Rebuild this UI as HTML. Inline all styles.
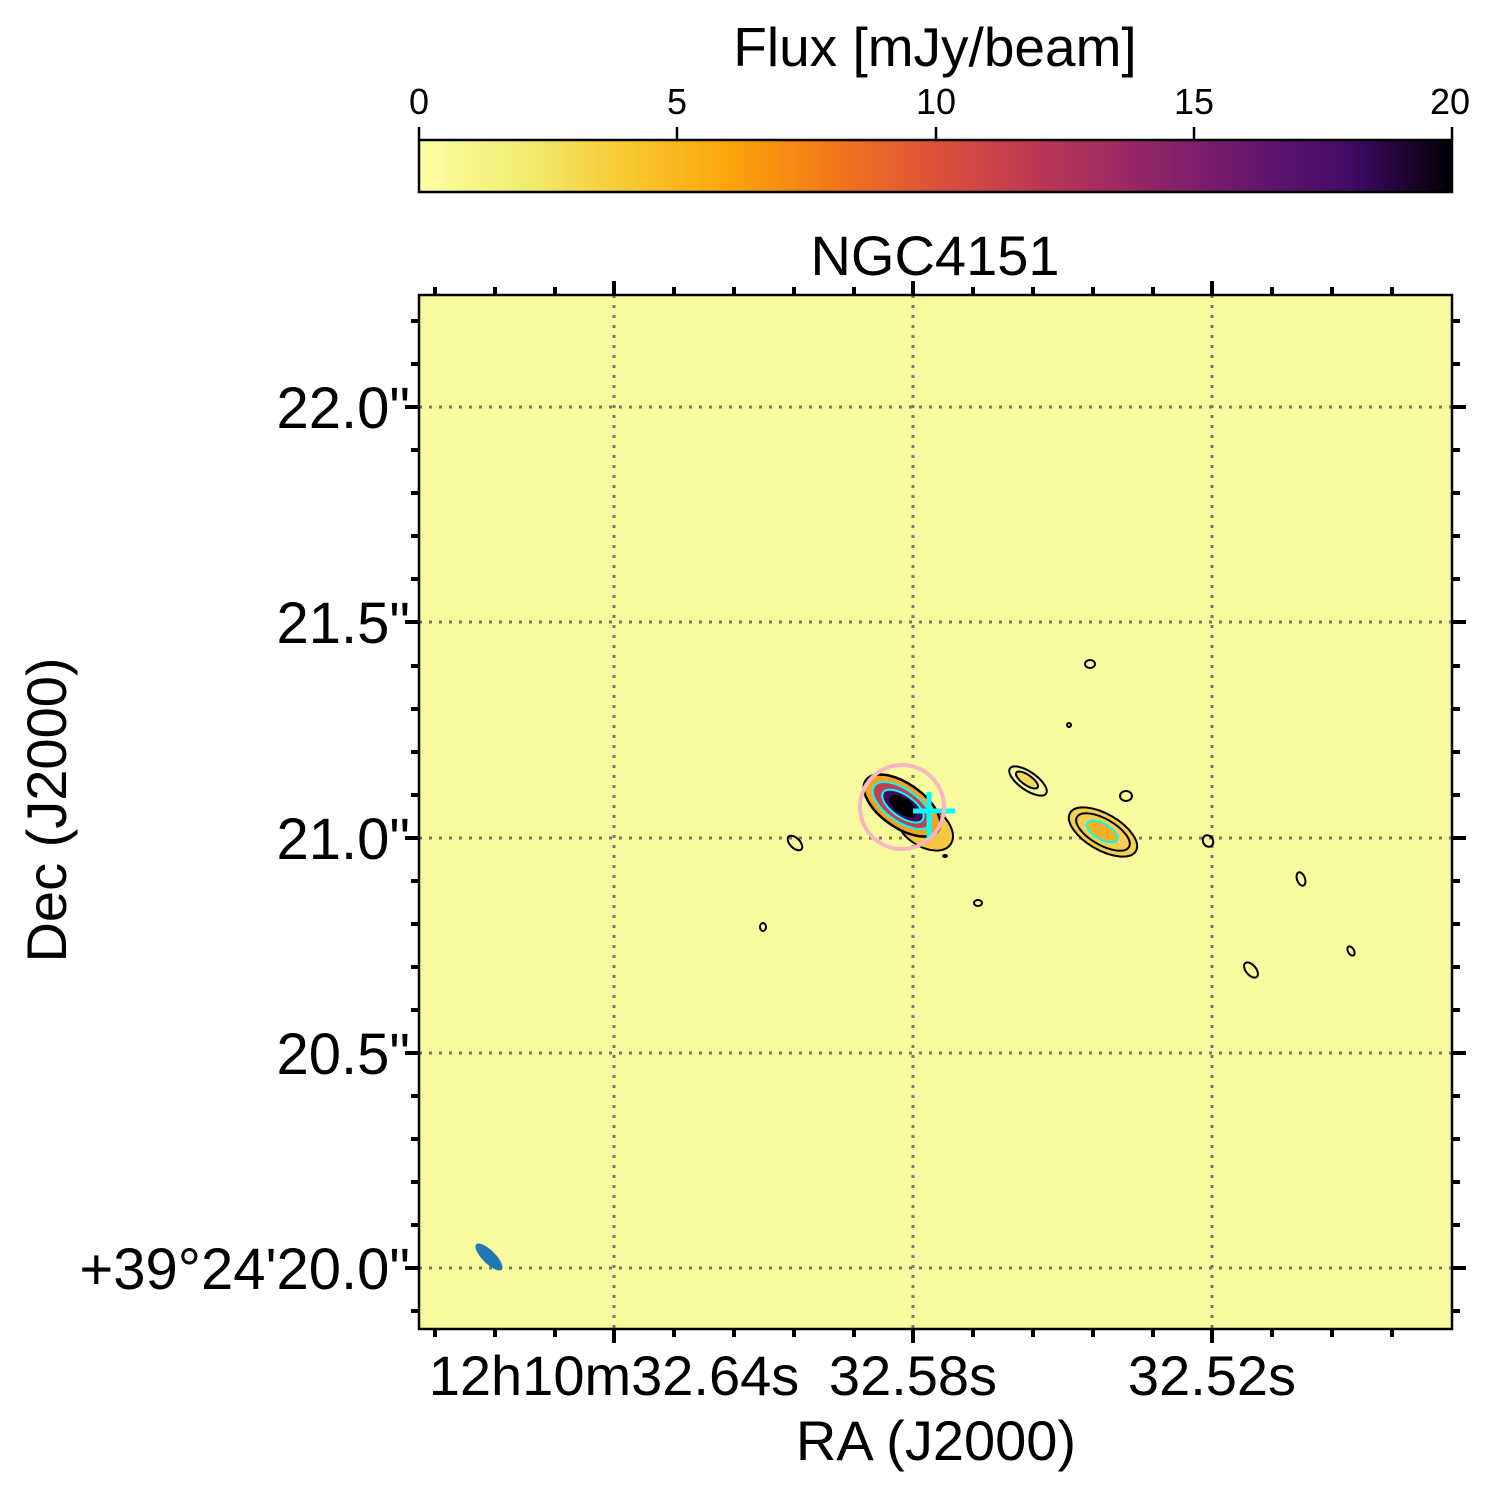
<!DOCTYPE html>
<html><head><meta charset="utf-8"><style>
html,body{margin:0;padding:0;background:#fff;}
svg{display:block;font-family:"Liberation Sans",sans-serif;}
</style></head><body>
<svg width="1512" height="1496" viewBox="0 0 1512 1496">
<defs>
<linearGradient id="cb" x1="0" x2="1" y1="0" y2="0">
<stop offset="0" stop-color="#fcffa4"/><stop offset="0.1" stop-color="#f1ed71"/>
<stop offset="0.2" stop-color="#f8c932"/><stop offset="0.3" stop-color="#fca50a"/>
<stop offset="0.4" stop-color="#f37819"/><stop offset="0.5" stop-color="#dd513a"/>
<stop offset="0.6" stop-color="#bc3754"/><stop offset="0.7" stop-color="#932667"/>
<stop offset="0.8" stop-color="#6a176e"/><stop offset="0.9" stop-color="#420a68"/>
<stop offset="1" stop-color="#000004"/>
</linearGradient>
</defs>
<text x="935" y="66" font-size="55" text-anchor="middle">Flux [mJy/beam]</text>
<rect x="419" y="140" width="1033" height="52" fill="url(#cb)" stroke="#000" stroke-width="2.5"/>
<g stroke="#000" stroke-width="2.5">
<line x1="419" y1="140" x2="419" y2="127"/><line x1="677" y1="140" x2="677" y2="127"/>
<line x1="936" y1="140" x2="936" y2="127"/><line x1="1194" y1="140" x2="1194" y2="127"/>
<line x1="1452" y1="140" x2="1452" y2="127"/></g>
<g font-size="36" text-anchor="middle">
<text x="419" y="114">0</text><text x="677" y="114">5</text><text x="936" y="114">10</text>
<text x="1194" y="114">15</text><text x="1450" y="114">20</text></g>
<text x="935" y="275" font-size="56" text-anchor="middle">NGC4151</text>
<rect x="419" y="295" width="1033" height="1034" fill="#f8fa9e"/>
<g stroke="#777" stroke-width="3" stroke-dasharray="3,7">
<line x1="614" y1="295" x2="614" y2="1329"/><line x1="913" y1="295" x2="913" y2="1329"/><line x1="1212" y1="295" x2="1212" y2="1329"/>
<line x1="419" y1="407" x2="1452" y2="407"/><line x1="419" y1="622" x2="1452" y2="622"/><line x1="419" y1="838" x2="1452" y2="838"/>
<line x1="419" y1="1053" x2="1452" y2="1053"/><line x1="419" y1="1268" x2="1452" y2="1268"/>
</g>
<g transform="rotate(35 905 810)">
<ellipse cx="930" cy="812" rx="32" ry="20" fill="#f5c840" stroke="#000" stroke-width="2"/>
<ellipse cx="900" cy="808" rx="44" ry="22" fill="#f8a020" stroke="#000" stroke-width="2.5"/>
<ellipse cx="900" cy="808" rx="34" ry="16" fill="#c04050" stroke="#0ff" stroke-width="2"/>
<ellipse cx="901" cy="808" rx="24" ry="11" fill="#400a60" stroke="#0ff" stroke-width="2"/>
<ellipse cx="901" cy="808" rx="16" ry="8" fill="#000"/>
</g>
<g stroke="#0ff" stroke-width="5"><line x1="929" y1="792" x2="929" y2="838"/><line x1="913" y1="811" x2="955" y2="811"/></g>
<circle cx="902" cy="807" r="42" fill="none" stroke="#f7b6c2" stroke-width="4"/>
<g transform="rotate(30 1103 832)">
<ellipse cx="1103" cy="832" rx="38" ry="18" fill="#f5d050" stroke="#000" stroke-width="2"/>
<ellipse cx="1103" cy="832" rx="30" ry="13" fill="none" stroke="#000" stroke-width="2"/>
<ellipse cx="1102" cy="832" rx="17" ry="8" fill="#f8b020" stroke="#0ff" stroke-width="2"/>
</g>
<g fill="none" stroke="#000" stroke-width="2">
<ellipse cx="1028" cy="781" rx="22" ry="9" transform="rotate(35 1028 781)"/>
<ellipse cx="1027" cy="780" rx="13" ry="5" fill="#f0da60" transform="rotate(35 1027 780)"/>
<ellipse cx="1126" cy="796" rx="6" ry="5"/>
<ellipse cx="1090" cy="664" rx="5" ry="4"/>
<ellipse cx="795" cy="843" rx="5" ry="9" transform="rotate(-45 795 843)"/>
<ellipse cx="1208" cy="841" rx="5" ry="6" transform="rotate(-30 1208 841)"/>
<ellipse cx="1301" cy="879" rx="4" ry="7" transform="rotate(-20 1301 879)"/>
<ellipse cx="1251" cy="970" rx="5" ry="9" transform="rotate(-40 1251 970)"/>
<ellipse cx="1351" cy="951" rx="3" ry="5" transform="rotate(-30 1351 951)"/>
<ellipse cx="763" cy="927" rx="3" ry="4"/>
<ellipse cx="978" cy="903" rx="4" ry="3"/>
<ellipse cx="1069" cy="725" rx="2" ry="2"/>
</g>
<ellipse cx="945" cy="856" rx="3" ry="2" fill="#000"/>
<ellipse cx="489" cy="1257" rx="18" ry="6.5" fill="#1f77b4" transform="rotate(45 489 1257)"/>
<rect x="419" y="295" width="1033" height="1034" fill="none" stroke="#000" stroke-width="2.5"/>
<g stroke="#000" stroke-width="4">
<path d="M435 1329v8M495 1329v8M555 1329v8M674 1329v8M734 1329v8M794 1329v8M854 1329v8M973 1329v8M1033 1329v8M1093 1329v8M1153 1329v8M1272 1329v8M1332 1329v8M1392 1329v8"/>
<path d="M614 1329v14M913 1329v14M1212 1329v14"/>
<path d="M435 295v-8M495 295v-8M555 295v-8M674 295v-8M734 295v-8M794 295v-8M854 295v-8M973 295v-8M1033 295v-8M1093 295v-8M1153 295v-8M1272 295v-8M1332 295v-8M1392 295v-8"/>
<path d="M614 295v-14M913 295v-14M1212 295v-14"/>
<path d="M419 1311h-8M419 1225h-8M419 1182h-8M419 1139h-8M419 1096h-8M419 1010h-8M419 967h-8M419 924h-8M419 881h-8M419 795h-8M419 752h-8M419 709h-8M419 666h-8M419 579h-8M419 536h-8M419 493h-8M419 450h-8M419 364h-8M419 321h-8"/>
<path d="M419 1268h-14M419 1053h-14M419 838h-14M419 622h-14M419 407h-14"/>
<path d="M1452 1311h8M1452 1225h8M1452 1182h8M1452 1139h8M1452 1096h8M1452 1010h8M1452 967h8M1452 924h8M1452 881h8M1452 795h8M1452 752h8M1452 709h8M1452 666h8M1452 579h8M1452 536h8M1452 493h8M1452 450h8M1452 364h8M1452 321h8"/>
<path d="M1452 1268h14M1452 1053h14M1452 838h14M1452 622h14M1452 407h14"/>
</g>
<g font-size="58" text-anchor="end">
<text x="410" y="428">22.0"</text><text x="410" y="643">21.5"</text><text x="410" y="859">21.0"</text>
<text x="410" y="1074">20.5"</text><text x="410" y="1289">+39°24'20.0"</text></g>
<g font-size="56" text-anchor="middle">
<text x="614" y="1395">12h10m32.64s</text><text x="913" y="1395">32.58s</text><text x="1212" y="1395">32.52s</text>
<text x="936" y="1460">RA (J2000)</text></g>
<text transform="translate(66 810) rotate(-90)" font-size="56" text-anchor="middle">Dec (J2000)</text>
</svg>
</body></html>
